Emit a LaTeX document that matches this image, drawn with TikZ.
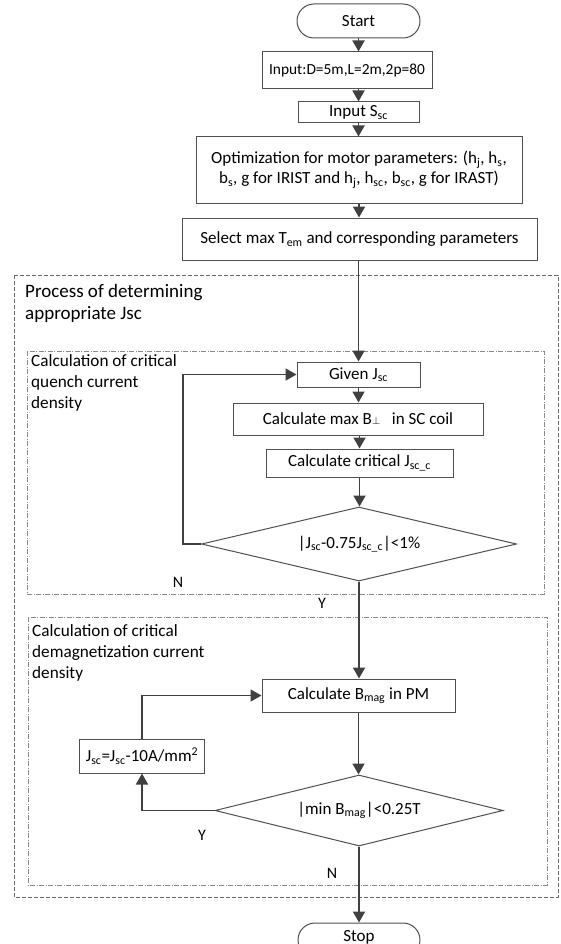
\documentclass[tikz,border=0pt]{standalone}
\usepackage{fontspec}
\setmainfont{Carlito}
\usetikzlibrary{shapes.geometric,arrows.meta}
\newcommand\sbs[1]{\textsubscript{#1}}
\definecolor{lc}{HTML}{404040}
\definecolor{bc}{HTML}{505050}
\definecolor{rc}{HTML}{6A6A6A}
\definecolor{ic}{HTML}{8A8A8A}
\begin{document}
\begin{tikzpicture}[x=1pt,y=-1pt,
  box/.style={draw=bc, line width=1pt, fill=white, inner sep=0pt, text=black,
    font=\fontsize{17}{20}\selectfont, align=center},
  term/.style={box, rounded corners=17pt},
  dec/.style={box, shape=diamond},
  arr/.style={draw=lc, line width=1.8pt, -{Triangle[length=11pt,width=12pt]}},
  outerreg/.style={draw=rc, line width=1pt, dash pattern=on 4pt off 2pt},
  innerreg/.style={draw=ic, line width=1pt, dash pattern=on 5pt off 1.5pt on 1pt off 1.5pt},
  lab/.style={align=left, anchor=north west, inner sep=0pt, text=black},
  yn/.style={font=\fontsize{16}{19}\selectfont, inner sep=0pt, text=black}]
\useasboundingbox (0,0) rectangle (561,944);

% regions
\draw[outerreg] (14,275) rectangle (558,897);
\draw[innerreg] (27,351) rectangle (544,594);
\draw[innerreg] (28,617) rectangle (547,885);

\node[lab, font=\fontsize{19}{22}\selectfont] (plab) at (25,284.5) {Process of determining\\appropriate Jsc};
\node[lab, font=\fontsize{17.2}{21}\selectfont] (qlab) at (31,354) {Calculation of critical\\quench current\\density};
\node[lab, font=\fontsize{17.2}{21}\selectfont] (dlab) at (32,624) {Calculation of critical\\demagnetization current\\density};

% nodes
\node[term, minimum width=123pt, minimum height=34pt] (start) at (358.5,21) {Start};
\node[box, minimum width=170pt, minimum height=37pt, font=\fontsize{15.4}{18}\selectfont] (in1) at (347,70.5) {Input:D=5m,L=2m,2p=80};
\node[box, minimum width=121pt, minimum height=21pt] (in2) at (358.5,112.5) {Input S\sbs{sc}};
\node[box, minimum width=326pt, minimum height=66pt] (opt) at (359,170) {Optimization for motor parameters: (h\sbs{j}, h\sbs{s},\\ b\sbs{s}, g for IRIST and h\sbs{j}, h\sbs{sc}, b\sbs{sc}, g for IRAST)};
\node[box, minimum width=355pt, minimum height=42pt] (sel) at (359.5,239) {Select max T\sbs{em} and corresponding parameters};
\node[box, minimum width=123pt, minimum height=25pt] (given) at (358.5,374.5) {Given J\sbs{sc}};
\node[box, minimum width=250pt, minimum height=32pt] (maxb) at (358,419) {Calculate max B{\fontsize{11}{12}\selectfont$\perp$}\ \ \ in SC coil};
\node[box, minimum width=187pt, minimum height=28pt] (crit) at (359.5,463) {Calculate critical J\sbs{sc\_c}};
\node[dec, shape aspect=4.26, minimum width=315pt, minimum height=74pt] (dia1) at (359,544) {|J\sbs{sc}-0.75J\sbs{sc\_c}|<1\%};
\node[box, minimum width=193pt, minimum height=33pt] (bmag) at (358.5,695.5) {Calculate B\sbs{mag} in PM};
\node[box, minimum width=125pt, minimum height=34pt] (jsc) at (142,756) {J\sbs{sc}=J\sbs{sc}-10A/mm\textsuperscript{2}};
\node[dec, shape aspect=4.06, minimum width=288pt, minimum height=71pt] (dia2) at (359,810.5) {|min B\sbs{mag}|<0.25T};
\node[term, minimum width=122pt, minimum height=34pt] (stop) at (359,940) {\raisebox{8pt}{Stop}};

% labels
\node[yn] (n1) at (178,582) {N};
\node[yn] (y1) at (322,603) {Y};
\node[yn] (y2) at (202,835) {Y};
\node[yn] (n2) at (332,873) {N};

% connectors
\draw[arr] (start.south) -- (start.south |- in1.north);
\draw[arr] (in2.north |- in1.south) -- (in2.north);
\draw[arr] (in2.south) -- (in2.south |- opt.north);
\draw[arr] (opt.south) -- (opt.south |- sel.north);
\draw[arr] (given.north |- sel.south) -- (given.north);
\draw[arr] (given.south) -- (given.south |- maxb.north);
\draw[arr] (crit.north |- maxb.south) -- (crit.north);
\draw[arr] (crit.south) -- (crit.south |- dia1.north);
\draw[arr] (dia1.south) -- (dia1.south |- bmag.north);
\draw[arr] (bmag.south) -- (bmag.south |- dia2.north);
\draw[arr] (dia2.south) -- (dia2.south |- stop.north);
\coordinate (l1) at (183,544);
\draw[arr] (dia1.west) -- (l1) |- (given.west);
\draw[arr] (dia2.west) -| (jsc.south);
\draw[arr] (jsc.north) |- (bmag.west);
\end{tikzpicture}
\end{document}
